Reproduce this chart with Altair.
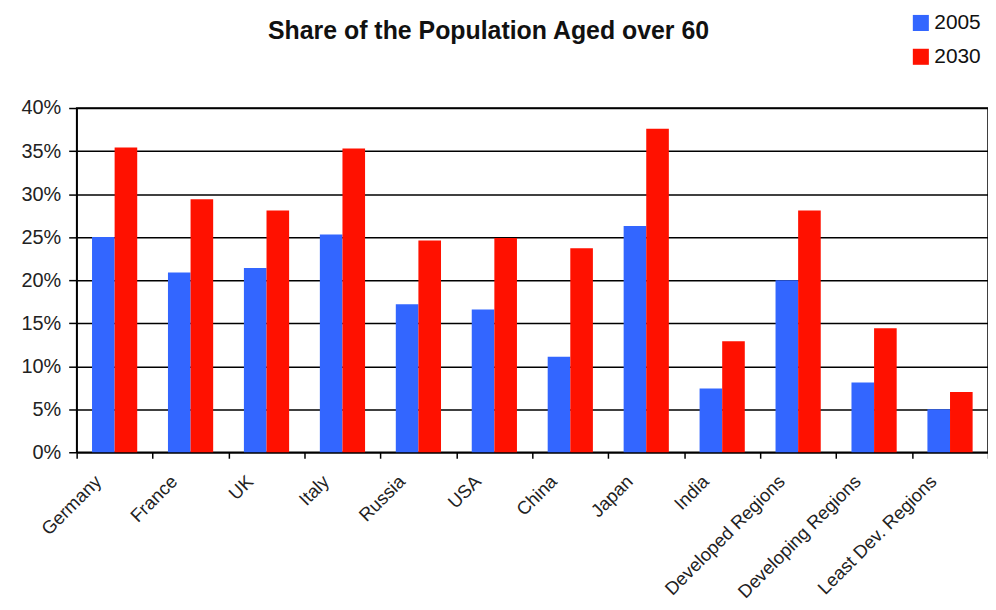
import altair as alt
import pandas as pd

categories = ["Germany", "France", "UK", "Italy", "Russia", "USA", "China", "Japan",
              "India", "Developed Regions", "Developing Regions", "Least Dev. Regions"]
years = ["2005", "2030"]
share_2005 = [25.0, 20.9, 21.4, 25.3, 17.2, 16.6, 11.1, 26.3, 7.4, 20.0, 8.1, 5.0]
share_2030 = [35.4, 29.4, 28.1, 35.3, 24.6, 24.9, 23.7, 37.6, 12.9, 28.1, 14.4, 7.0]
y_ticks = [0, 5, 10, 15, 20, 25, 30, 35, 40]

rows = []
for c, a, b in zip(categories, share_2005, share_2030):
    rows.append({"region": c, "year": years[0], "share": a})
    rows.append({"region": c, "year": years[1], "share": b})
df = pd.DataFrame(rows)

FONT = "Liberation Sans"

chart = alt.Chart(df).mark_bar().encode(
    x=alt.X("region:N", sort=categories, title=None,
            scale=alt.Scale(paddingInner=0, paddingOuter=0),
            axis=alt.Axis(labelAngle=-45, labelAlign="right", labelBaseline="middle",
                          labelFontSize=18.5, labelFont=FONT, labelColor="#222222",
                          labelPadding=20, labelOffset=-17,
                          tickBand="extent", tickSize=6, tickColor="black", tickWidth=1.5,
                          domainColor="black", domainWidth=1.5, grid=False)),
    xOffset=alt.XOffset("year:N", sort=years,
                        scale=alt.Scale(paddingInner=0, paddingOuter=0.68)),
    y=alt.Y("share:Q", title=None,
            scale=alt.Scale(domain=[0, 40], nice=False),
            axis=alt.Axis(values=y_ticks, labelExpr="datum.value + '%'",
                          labelFontSize=20, labelFont=FONT, labelColor="#222222",
                          labelPadding=8, tickSize=8, tickColor="black", tickWidth=1.5,
                          domainColor="black", domainWidth=1.5,
                          grid=True, gridColor="black", gridWidth=1.5)),
    color=alt.Color("year:N", sort=years,
                    scale=alt.Scale(domain=years, range=["#3366FF", "#FF1100"]),
                    legend=alt.Legend(title=None, orient="none", legendX=838, legendY=-96,
                                      symbolType="square", symbolSize=260,
                                      symbolStrokeWidth=0, symbolOpacity=1,
                                      labelFontSize=21, labelFont=FONT, labelColor="#111111",
                                      rowPadding=12, labelOffset=3)),
).properties(
    width=916, height=346,
    title=alt.Title("Share of the Population Aged over 60", font=FONT, fontSize=25,
                    fontWeight="bold", color="#111111", anchor="middle", dx=-44,
                    offset=-32),
    padding={"left": 69, "top": 99, "right": 0, "bottom": 156},
    autosize=alt.AutoSizeParams(type="none"),
).configure_view(stroke="black", strokeWidth=1.5)

chart.save("out.html", embed_options={"renderer": "svg", "actions": False})
